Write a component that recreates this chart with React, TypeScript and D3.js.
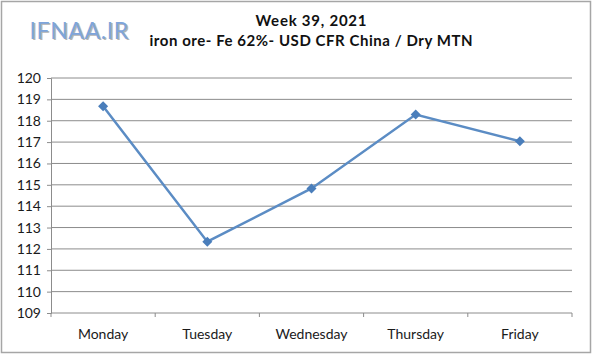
import React, { useEffect, useRef } from 'react';
import * as d3 from 'd3';

const days = ['Monday', 'Tuesday', 'Wednesday', 'Thursday', 'Friday'];
const prices = [118.68, 112.34, 114.83, 118.29, 117.04];
const yTicks = [109, 110, 111, 112, 113, 114, 115, 116, 117, 118, 119, 120];
const titleLines = ['Week 39, 2021', 'iron ore- Fe 62%- USD CFR China / Dry MTN'];
const titleWidths = [111, 323];

const W = 600, H = 359;
const margin = { top: 78, right: 28, bottom: 46, left: 51 };

const App = () => {
  const ref = useRef<SVGSVGElement>(null);

  useEffect(() => {
    const svg = d3.select(ref.current);
    svg.selectAll('*').remove();

    const x = d3.scaleBand().domain(days).range([margin.left, W - margin.right]);
    const y = d3.scaleLinear().domain([109, 120]).range([H - margin.bottom, margin.top]);
    const font = 'Lato, "Open Sans", sans-serif';

    svg.append('rect').attr('width', W).attr('height', H).attr('fill', '#fff');
    // outer frame
    svg.append('rect')
      .attr('x', 1.5).attr('y', 1.5).attr('width', 589).attr('height', 351)
      .attr('fill', 'none').attr('stroke', '#a6a6a6').attr('stroke-width', 1.5);

    // watermark
    const wm = svg.append('g').style('font-family', font).style('font-size', '23px').style('letter-spacing', '0.6px');
    wm.append('text').attr('x', 31).attr('y', 40.2).text('IFNAA.IR').attr('fill', '#b4b4b4');
    wm.append('text').attr('x', 29.5).attr('y', 39).text('IFNAA.IR').attr('fill', '#7ea5db');

    // titles
    svg.append('g').selectAll('text').data(titleLines).enter().append('text')
      .attr('x', 311).attr('y', (d, i) => 25.5 + i * 20)
      .attr('text-anchor', 'middle')
      .attr('textLength', (d, i) => titleWidths[i]).attr('lengthAdjust', 'spacing')
      .style('font-family', font).style('font-weight', 700).style('font-size', '15px')
      .attr('fill', '#111')
      .text(d => d);

    // gridlines
    svg.append('g').selectAll('line').data(yTicks.slice(1)).enter().append('line')
      .attr('x1', margin.left).attr('x2', W - margin.right)
      .attr('y1', d => y(d)).attr('y2', d => y(d))
      .attr('stroke', '#8c8c8c').attr('stroke-width', 1);

    // y axis
    const yAxis = svg.append('g').attr('transform', `translate(${margin.left},0)`)
      .call(d3.axisLeft(y).tickValues(yTicks).tickSize(4).tickPadding(6));
    yAxis.selectAll('path, line').attr('stroke', '#8c8c8c');
    yAxis.selectAll('text').style('font-family', font).style('font-size', '14px').attr('fill', '#1a1a1a');

    // x axis
    const bounds = days.map(d => x(d) as number).concat([W - margin.right]);
    const xg = svg.append('g');
    xg.append('line').attr('x1', margin.left).attr('x2', W - margin.right)
      .attr('y1', y(109)).attr('y2', y(109)).attr('stroke', '#8c8c8c');
    xg.selectAll('.tk').data(bounds).enter().append('line')
      .attr('x1', d => d).attr('x2', d => d)
      .attr('y1', y(109)).attr('y2', y(109) + 4).attr('stroke', '#8c8c8c');
    xg.selectAll('text').data(days).enter().append('text')
      .attr('x', d => (x(d) as number) + x.bandwidth() / 2).attr('y', 339)
      .attr('text-anchor', 'middle')
      .style('font-family', font).style('font-size', '14px').attr('fill', '#1a1a1a')
      .text(d => d);

    // series
    const pts = days.map((d, i) => [(x(d) as number) + x.bandwidth() / 2, y(prices[i])] as [number, number]);
    svg.append('path').attr('d', d3.line()(pts))
      .attr('fill', 'none').attr('stroke', '#5b8cc4').attr('stroke-width', 2.5);
    svg.append('g').selectAll('path').data(pts).enter().append('path')
      .attr('d', d3.symbol(d3.symbolDiamond2, 64)())
      .attr('transform', d => `translate(${d[0]},${d[1]})`)
      .attr('fill', '#4a7ebb');
  }, []);

  return <svg ref={ref} width={W} height={H} style={{ display: 'block', position: 'absolute', left: 0, top: 0 }} />;
};

export default App;
